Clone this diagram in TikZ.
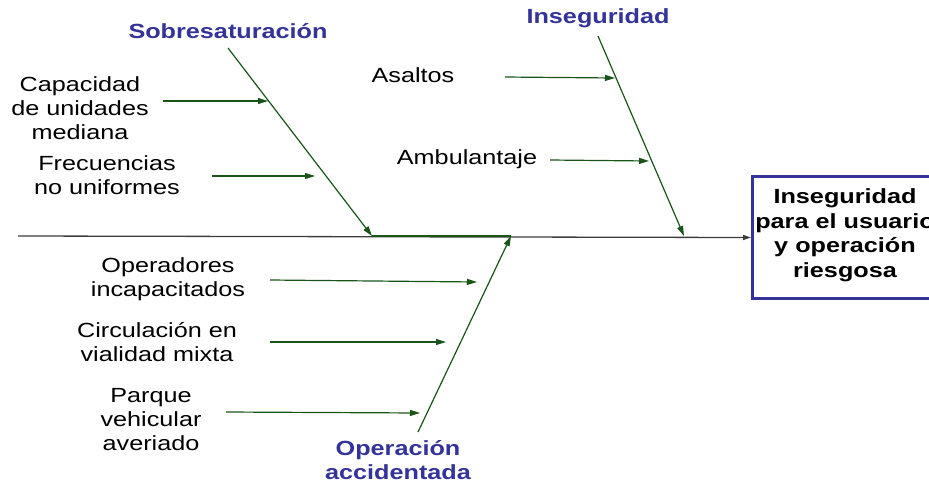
\documentclass[tikz,border=0pt]{standalone}
\usepackage{fontspec}
\setmainfont{Liberation Sans}
\usetikzlibrary{arrows.meta}
\definecolor{catblue}{RGB}{51,51,153}
\definecolor{bonegreen}{RGB}{25,85,25}
\definecolor{spinegray}{RGB}{60,60,60}
\tikzset{
  txt/.style={font=\fontsize{20.5}{24}\selectfont, align=center, inner sep=0pt, xscale=1.23, transform shape},
  cat/.style={txt, text=catblue, font=\bfseries\fontsize{20.5}{24}\selectfont},
  bone/.style={draw=bonegreen, line width=1.2pt, -{Triangle[length=10pt,width=6pt]}},
  spine/.style={draw=spinegray, line width=1.3pt, -{Triangle[length=8pt,width=5pt]}},
}
\begin{document}
\begin{tikzpicture}[x=1pt,y=-1pt]
\useasboundingbox (0,0) rectangle (929,483);
% effect box
\node[draw=catblue, line width=3pt, minimum width=205pt, minimum height=122pt, inner sep=0pt, anchor=north west] (effect) at (751,175) {};
\node[txt, font=\bfseries\fontsize{20.5}{24.5}\selectfont] (effecttxt) at (845,235) {Inseguridad\\para el usuario\\y operación\\riesgosa};
% spine
\coordinate (spinestart) at (18,236);
\coordinate (j1) at (372,236);
\coordinate (j2) at (511,236);
\coordinate (j3) at (684,236);
\draw[spine] (spinestart) -- (effect.west);
\draw[draw=bonegreen, line width=1.3pt] (j1) -- (j2);
% Sobresaturacion
\node[cat] (sobre) at (228,31) {Sobresaturación};
\coordinate (s0) at (228,48);
\draw[bone] (s0) -- (j1);
\coordinate (s1) at (268,101);
\coordinate (s2) at (315,176);
\node[txt] (capac) at (80,108) {Capacidad\\de unidades\\mediana};
\node[txt] (frec) at (107,175) {Frecuencias\\no uniformes};
\coordinate (c1) at (163,101);
\coordinate (f1) at (212,176);
\draw[bone] (c1) -- (s1);
\draw[bone] (f1) -- (s2);
% Inseguridad
\node[cat] (inseg) at (598,18) {Inseguridad};
\coordinate (i0) at (598,36);
\draw[bone] (i0) -- (j3);
\node[txt] (asaltos) at (413,75) {Asaltos};
\node[txt] (ambul) at (467,159) {Ambulantaje};
\coordinate (a1) at (505,77);
\coordinate (a2) at (615,78);
\coordinate (b1) at (550,160);
\coordinate (b2) at (649,161);
\draw[bone] (a1) -- (a2);
\draw[bone] (b1) -- (b2);
% Operacion accidentada
\node[cat] (oper) at (398,460) {Operación\\accidentada};
\coordinate (o0) at (418,432);
\draw[bone] (o0) -- (j2);
\node[txt] (opinc) at (168,279) {Operadores\\incapacitados};
\node[txt] (circ) at (157,342) {Circulación en\\vialidad mixta};
\node[txt] (parque) at (151,420) {Parque\\vehicular\\averiado};
\coordinate (p1) at (270,280);
\coordinate (p2) at (477,282);
\coordinate (q1) at (270,342);
\coordinate (q2) at (446,342);
\coordinate (r1) at (226,412);
\coordinate (r2) at (420,413);
\draw[bone] (p1) -- (p2);
\draw[bone] (q1) -- (q2);
\draw[bone] (r1) -- (r2);
\end{tikzpicture}
\end{document}
